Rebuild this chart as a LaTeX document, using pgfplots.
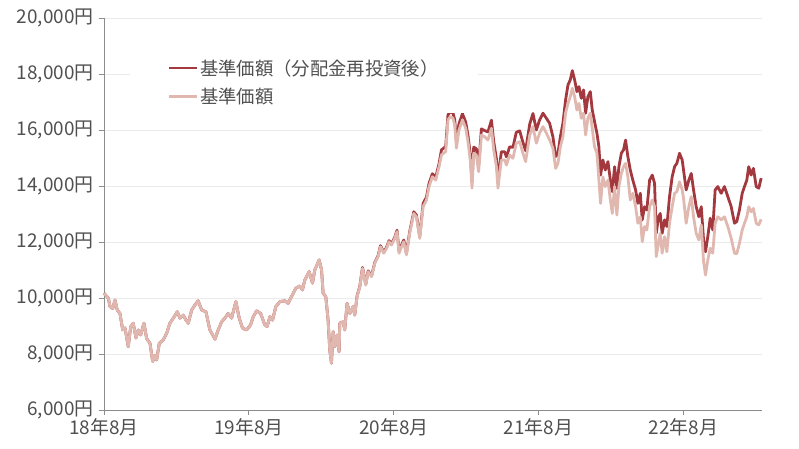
\documentclass[border=0pt]{standalone}
\usepackage{pgfplots}
\usepackage{pgfplotstable}
\usepackage{fontspec}
\pgfplotsset{compat=1.18}
\newfontfamily\cjk{Noto Sans CJK JP}
\setmainfont{Noto Sans CJK JP}

\definecolor{navdark}{RGB}{163,56,62}
\definecolor{navlight}{RGB}{224,184,176}
\definecolor{axisgray}{RGB}{140,140,140}
\definecolor{gridgray}{RGB}{235,235,235}
\definecolor{labelgray}{RGB}{80,80,80}

% m = months since Aug 2018; light = NAV; dark = NAV with reinvested distributions
\pgfplotstableread{
m light dark
0.00 10170 10170
0.36 9990 9990
0.50 9690 9690
0.72 9630 9630
0.91 9930 9930
1.10 9570 9570
1.32 9450 9450
1.55 8860 8860
1.74 8930 8930
2.01 8260 8260
2.21 8970 8970
2.42 9100 9100
2.65 8570 8570
2.84 8860 8860
3.04 8680 8680
3.31 9100 9100
3.53 8560 8560
3.81 8380 8380
4.03 7730 7730
4.22 7960 7960
4.36 7790 7790
4.58 8380 8380
4.91 8500 8500
5.19 8740 8740
5.46 9100 9100
5.74 9280 9280
6.07 9510 9510
6.29 9280 9280
6.56 9390 9390
6.79 9210 9210
6.98 9100 9100
7.26 9570 9570
7.53 9750 9750
7.80 9900 9900
8.09 9570 9570
8.44 9510 9510
8.77 8860 8860
9.19 8530 8530
9.46 8860 8860
9.74 9150 9150
10.01 9280 9280
10.29 9450 9450
10.57 9280 9280
10.92 9870 9870
11.20 9280 9280
11.48 8920 8920
11.81 8860 8860
12.14 9040 9040
12.36 9330 9330
12.64 9540 9540
12.97 9450 9450
13.32 9040 9040
13.51 8980 8980
13.74 9330 9330
13.96 9210 9210
14.23 9690 9690
14.57 9870 9870
14.98 9900 9900
15.25 9810 9810
15.53 10050 10050
15.89 10350 10350
16.22 10430 10430
16.44 10290 10290
16.63 10640 10640
16.99 10940 10940
17.27 10530 10530
17.46 11000 11000
17.82 11360 11360
18.02 11000 11000
18.15 10170 10170
18.37 10050 10050
18.56 9210 9210
18.70 8140 8140
18.84 7670 7670
18.98 8800 8800
19.12 8260 8260
19.31 8680 8680
19.47 8080 8080
19.53 9100 9100
19.80 9150 9150
19.94 8860 8860
20.13 9810 9810
20.36 9450 9450
20.63 9690 9690
20.77 9390 9390
20.96 10050 10070
21.19 10400 10420
21.41 11060 11090
21.68 10460 10490
21.88 10940 10970
22.16 10760 10790
22.43 11240 11270
22.70 11480 11510
22.90 11830 11870
23.17 11600 11640
23.40 11770 11810
23.61 12010 12050
23.81 11890 11930
24.08 12130 12170
24.27 12370 12420
24.44 11600 11660
24.64 11830 11890
24.83 12010 12070
25.05 11540 11600
25.32 12310 12370
25.66 13020 13080
25.88 12900 12960
26.15 12130 12190
26.43 13260 13370
26.71 13500 13610
26.92 13980 14090
27.20 14330 14440
27.48 14210 14320
27.75 14690 14800
27.95 15110 15290
28.30 15230 15410
28.49 16360 16540
28.69 16480 16660
28.91 16420 16600
29.05 16180 16360
29.19 15350 15570
29.40 16000 16220
29.69 16360 16580
29.96 16060 16280
30.15 15580 15800
30.35 14870 15090
30.48 13920 14140
30.62 15170 15390
30.84 15110 15330
31.03 14510 14730
31.26 15820 16040
31.53 15760 15980
31.80 15640 15930
32.09 16060 16350
32.28 15290 15580
32.50 14690 14980
32.63 13920 14210
32.91 14930 15220
33.19 14930 15220
33.33 14750 15040
33.60 15110 15400
33.87 14990 15380
34.15 15530 15920
34.43 15580 15970
34.70 15170 15560
34.92 14870 15260
35.26 15820 16210
35.53 16120 16590
35.81 15530 16000
36.08 15890 16360
36.36 16120 16600
36.64 15890 16420
36.91 15640 16240
37.18 15350 15760
37.41 14630 15050
37.60 14810 15170
37.80 15400 15760
38.01 15760 16240
38.23 16600 17070
38.43 16950 17610
38.62 17190 17790
38.79 17490 18120
38.98 17190 17790
39.17 16710 17370
39.34 16950 17550
39.53 16420 17130
39.72 16600 17430
39.89 15820 16600
40.08 16420 17190
40.28 16600 17370
40.44 16060 16710
40.63 15400 16300
40.83 15170 15880
40.99 14210 15400
41.13 13380 14390
41.32 14330 14930
41.52 13980 14570
41.74 14210 14870
41.94 13500 14210
42.10 13020 13800
42.29 13980 14690
42.48 12960 13920
42.65 13980 14690
42.85 14450 15170
43.03 14690 15290
43.20 14810 15640
43.39 14330 15050
43.59 13500 14570
43.80 13740 14210
44.03 13260 13860
44.22 12670 13380
44.42 12900 13740
44.58 12010 12790
44.77 12550 13260
44.96 12430 13140
45.19 13260 14210
45.41 13500 14390
45.60 13260 14100
45.74 11480 12310
45.93 11950 12900
46.07 12310 13020
46.23 11600 12310
46.43 12190 12790
46.62 11650 12550
46.84 12670 13620
47.06 13260 14330
47.26 13740 14690
47.45 13800 14810
47.67 14150 15170
47.89 13860 14930
48.00 13560 14570
48.22 12670 13860
48.44 13260 14210
48.64 13620 14450
48.83 12900 13860
49.05 12310 13260
49.27 12070 12900
49.47 12610 13260
49.66 11300 12070
49.82 10820 11650
50.01 11360 12190
50.21 11780 12850
50.42 11600 12430
50.62 12670 13860
50.84 12900 13980
51.12 12790 13740
51.39 12900 13980
51.67 12550 13620
51.95 12130 13260
52.22 11600 12670
52.41 11580 12730
52.63 11950 13140
52.86 12430 13740
53.05 12670 13980
53.24 12900 14210
53.40 13260 14690
53.60 13080 14390
53.79 13200 14630
54.02 12670 13980
54.23 12610 13920
54.43 12810 14280
}\navdata

\begin{document}
\begin{tikzpicture}
\begin{axis}[
  name=main,
  at={(0,0)}, anchor=south west,
  scale only axis,
  width=658bp, height=392bp,
  xmin=0, xmax=54.5,
  ymin=6000, ymax=20000,
  xtick={0,12,24,36,48},
  xticklabels={18年8月,19年8月,20年8月,21年8月,22年8月},
  ytick={6000,8000,10000,12000,14000,16000,18000,20000},
  scaled y ticks=false,
  yticklabel={\pgfmathprintnumber[fixed,precision=0,1000 sep={,},assume math mode=true]{\tick}円},
  axis x line*=bottom, axis y line*=left,
  axis line style={axisgray, line width=0.8pt},
  tick align=outside,
  major tick length=5bp,
  tick style={axisgray, line width=0.8pt},
  ymajorgrids,
  major grid style={gridgray, line width=0.8pt},
  tick label style={font=\cjk\fontsize{19}{21}\selectfont, text=labelgray},
  yticklabel style={xshift=-2bp},
  clip=false,
  legend cell align=left,
  legend style={
    at={(rel axis cs:0.039,0.915)}, anchor=north west,
    draw=none, fill=white,
    inner xsep=38bp, inner ysep=6bp,
    font=\cjk\fontsize{18.4}{21}\selectfont, text=labelgray,
    row sep=7bp,
    nodes={inner xsep=1.5bp},
  },
  legend image code/.code={\draw[#1, line width=2.8pt] (0bp,0bp) -- (28bp,0bp);},
]
\addplot[navdark, line width=2.8pt, line join=round] table[x=m, y=dark] {\navdata};
\addlegendentry{基準価額（分配金再投資後）}
\addplot[navlight, line width=2.8pt, line join=round] table[x=m, y=light] {\navdata};
\addlegendentry{基準価額}
\end{axis}
\pgfresetboundingbox
\path (-104bp,-39bp) rectangle (695bp,410bp);
\end{tikzpicture}
\end{document}
